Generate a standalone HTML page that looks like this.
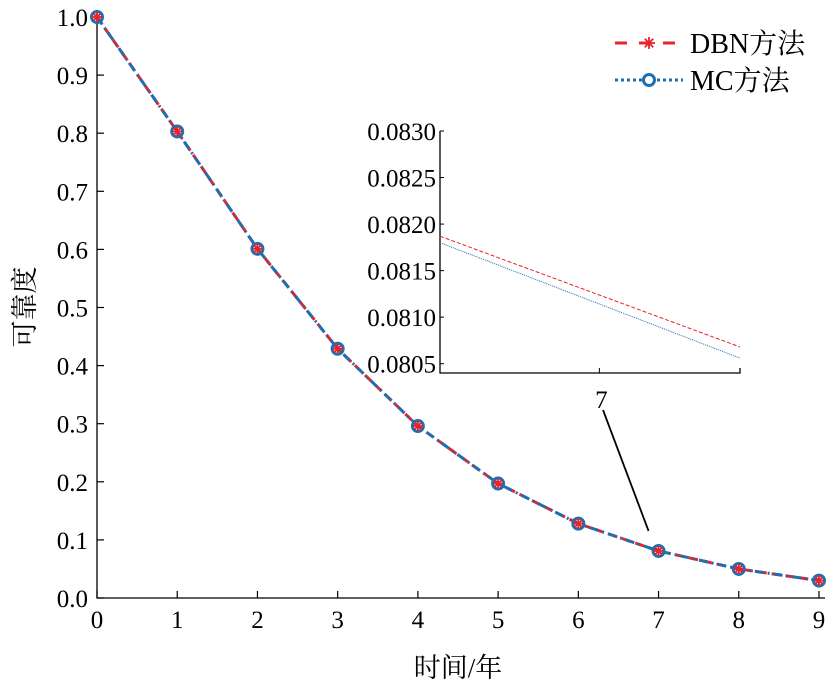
<!DOCTYPE html>
<html><head><meta charset="utf-8"><style>
html,body{margin:0;padding:0;background:#fff;}
svg{display:block;font-family:"Liberation Serif","Noto Serif CJK SC",serif;}
</style></head><body>
<svg id="chart" width="835" height="691" viewBox="0 0 835 691">
<g id="main"></g>
<g id="inset"></g>
</svg>
<script>
const years = [0,1,2,3,4,5,6,7,8,9];
const dbnValues = [1.0,0.803,0.601,0.429,0.296,0.197,0.128,0.081,0.050,0.030];
const mcValues = [1.0,0.803,0.601,0.429,0.296,0.197,0.128,0.081,0.050,0.030];
const xTicks = [0,1,2,3,4,5,6,7,8,9];
const yTicks = [0,0.1,0.2,0.3,0.4,0.5,0.6,0.7,0.8,0.9,1.0];
const insetX = [6.83,7.15];
const insetDbn = [0.08187,0.08068];
const insetMc = [0.08180,0.08056];
const insetYTicks = [0.0805,0.0810,0.0815,0.0820,0.0825,0.0830];
const insetXTicks = [7];

const NS="http://www.w3.org/2000/svg";
function mk(tag,attrs,parent,text){const e=document.createElementNS(NS,tag);for(const k in attrs)e.setAttribute(k,attrs[k]);if(text!==undefined)e.textContent=text;parent.appendChild(e);return e;}
const main=document.getElementById('main'), inset=document.getElementById('inset');
const X0=97,X1=819,Y0=598,Y1=17;
const sx=v=>X0+(v-0)/9*(X1-X0);
const sy=v=>Y0-(v-0)/1.0*(Y0-Y1);

let ax=mk('path',{d:`M${X0},${Y1-7}V${Y0}H${X1+6}`,fill:'none',stroke:'#000','stroke-width':1.3},main);

xTicks.forEach(t=>{
 let l=mk('line',{x1:sx(t),x2:sx(t),y1:Y0,y2:Y0-7,stroke:'#000','stroke-width':1.2},main);
 
 let tx=mk('text',{x:sx(t),y:Y0+30,'font-size':25,'text-anchor':'middle'},main,String(t));
 
});
yTicks.forEach(t=>{
 let l=mk('line',{x1:X0,x2:X0+7,y1:sy(t),y2:sy(t),stroke:'#000','stroke-width':1.2},main);
 
 let tx=mk('text',{x:X0-9,y:sy(t)+9,'font-size':25,'text-anchor':'end'},main,t.toFixed(1));
 
});
let xt=mk('text',{x:458,y:677,'font-size':27,'text-anchor':'middle'},main,'时间/年');

let yt=mk('text',{x:34,y:307,'font-size':27,'text-anchor':'middle',transform:'rotate(-90 34 307)'},main,'可靠度');


const dpath=years.map((y,i)=>(i?'L':'M')+sx(y)+','+sy(dbnValues[i])).join('');
let dl=mk('path',{d:dpath,fill:'none',stroke:'#e8232a','stroke-width':3,'stroke-dasharray':'9 5'},main);

const mpath=years.map((y,i)=>(i?'L':'M')+sx(y)+','+sy(mcValues[i])).join('');
let ml=mk('path',{d:mpath,fill:'none',stroke:'#1f6fb0','stroke-width':3,'stroke-dasharray':'9 4 2 4'},main);

function star(g,cx,cy,r,name){
 for(let a=0;a<180;a+=45){const rad=a*Math.PI/180;
  let s=mk('line',{x1:cx-r*Math.cos(rad),y1:cy-r*Math.sin(rad),x2:cx+r*Math.cos(rad),y2:cy+r*Math.sin(rad),stroke:'#e8232a','stroke-width':1.8},g);
  }
}
years.forEach((y,i)=>{
 let c=mk('circle',{cx:sx(y),cy:sy(mcValues[i]),r:5.5,fill:'none',stroke:'#1f6fb0','stroke-width':3},main);
 
 star(main,sx(y),sy(dbnValues[i]),5,'dbn-marker');
});

let lg=mk('g',{},main);
let l1=mk('line',{x1:615,x2:683,y1:43,y2:43,stroke:'#e8232a','stroke-width':3,'stroke-dasharray':'12 12'},lg);

star(lg,649,43,6,'legend-dbn-marker');
let t1=mk('text',{x:690,y:53,'font-size':28},lg,'DBN方法');
let l2=mk('line',{x1:615,x2:683,y1:80,y2:80,stroke:'#1f6fb0','stroke-width':3,'stroke-dasharray':'3 3'},lg);

let c2=mk('circle',{cx:649,cy:80,r:5.5,fill:'#fff',stroke:'#1f6fb0','stroke-width':3},lg);

let t2=mk('text',{x:690,y:90,'font-size':28},lg,'MC方法');

const IX0=440,IX1=740,IY0=373,IY1=131;
const isx=v=>IX0+(v-insetX[0])/(insetX[1]-insetX[0])*(IX1-IX0);
const isy=v=>IY0-(v-0.0804)/(0.0830-0.0804)*(IY0-IY1);
let ibg=mk('rect',{x:IX0,y:IY1-5,width:IX1-IX0+5,height:IY0-IY1+5,fill:'#fff'},inset);

let iax=mk('path',{d:`M${IX0},${IY1}V${IY0}H${IX1}V${IY0-5}`,fill:'none',stroke:'#000','stroke-width':1.3},inset);

insetYTicks.forEach(t=>{
 let l=mk('line',{x1:IX0,x2:IX0+4,y1:isy(t),y2:isy(t),stroke:'#000'},inset);
 
 let tx=mk('text',{x:IX0-4,y:isy(t)+9,'font-size':25,'text-anchor':'end'},inset,t.toFixed(4));
 
});
insetXTicks.forEach(t=>{
 let l=mk('line',{x1:isx(t),x2:isx(t),y1:IY0,y2:IY0-5,stroke:'#000'},inset);
 
 let tx=mk('text',{x:isx(t)+2,y:IY0+35,'font-size':25,'text-anchor':'middle'},inset,String(t));
 
});
let id=mk('line',{x1:isx(insetX[0]),y1:isy(insetDbn[0]),x2:isx(insetX[1]),y2:isy(insetDbn[1]),stroke:'#e8232a','stroke-width':1,'stroke-dasharray':'4 2'},inset);

let im=mk('line',{x1:isx(insetX[0]),y1:isy(insetMc[0]),x2:isx(insetX[1]),y2:isy(insetMc[1]),stroke:'#1f6fb0','stroke-width':1,'stroke-dasharray':'1 1'},inset);

let cn=mk('line',{x1:603,y1:410,x2:sx(7)-10,y2:sy(dbnValues[7])-20,stroke:'#000','stroke-width':1.8},inset);

</script>
</body></html>
